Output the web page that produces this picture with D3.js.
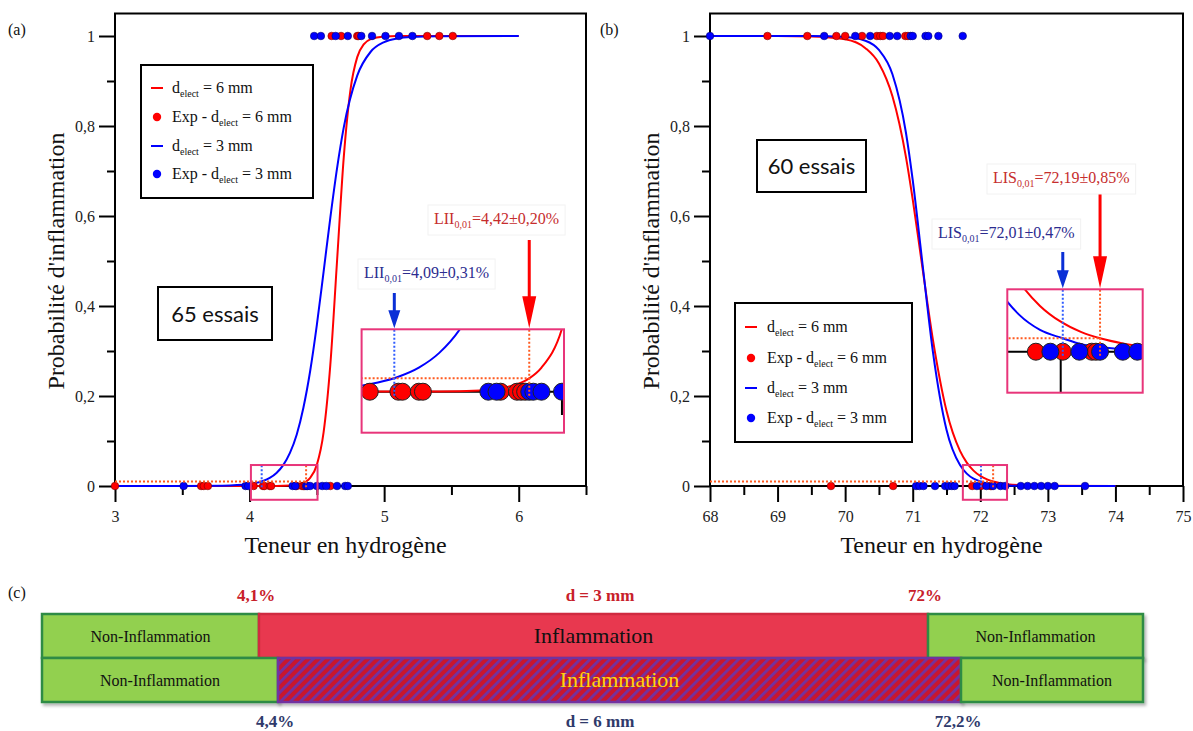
<!DOCTYPE html>
<html><head><meta charset="utf-8">
<script src="https://cdn.jsdelivr.net/npm/d3@7"></script>
<style>body{margin:0;background:#fff}svg{display:block}</style>
</head><body>
<svg id="chart" width="1193" height="731"></svg>
<script>
const FONT = "'Liberation Serif','Times New Roman',Times,serif";
const SANS = "Lato,'Open Sans','Liberation Sans',sans-serif";

// ---------------- Panel (a) data : x = hydrogen content (%), p = probability ----------------
const aCurve6 = [[3.0,0],[4.2,0.0001],[4.3,0.0009],[4.35,0.0025],[4.4,0.0067],[4.42,0.01],[4.45,0.018],[4.5,0.047],[4.55,0.119],[4.6,0.269],[4.65,0.5],[4.7,0.731],[4.75,0.881],[4.8,0.953],[4.85,0.982],[4.9,0.993],[5.0,0.999],[5.1,1],[6.0,1]];
const aCurve3 = [[3.0,0],[3.5,0.00003],[3.8,0.0006],[4.0,0.0042],[4.05,0.0069],[4.1,0.0112],[4.15,0.018],[4.2,0.029],[4.25,0.0465],[4.3,0.0735],[4.35,0.114],[4.4,0.174],[4.45,0.255],[4.5,0.358],[4.55,0.476],[4.6,0.596],[4.65,0.706],[4.7,0.797],[4.8,0.912],[4.9,0.965],[5.0,0.9865],[5.1,0.9948],[5.2,0.998],[5.4,0.9997],[6.0,1]];
const aExp6Ignition = [4.61,4.68,4.80,4.81,5.32,5.41,5.51];
const aExp6NoIgnition = [3.0,3.64,3.66,3.69,4.03,4.10,4.11,4.15,4.16,4.35,4.39,4.40,4.41,4.60];
const aExp3Ignition = [4.48,4.53,4.64,4.73,4.83,4.91,5.01,5.11,5.21];
const aExp3NoIgnition = [3.51,3.97,3.99,4.32,4.34,4.42,4.43,4.45,4.50,4.54,4.57,4.65,4.71,4.73];
const aXTicks = [3,4,5,6];
const aXMinor = [3.5,4.5,5.5,6.5];
const aLimit6 = {name:"LII", value:4.42, err:0.20};
const aLimit3 = {name:"LII", value:4.09, err:0.31};
const aTrials = "65 essais";

// ---------------- Panel (b) data ----------------
const bCurve6 = [[68,1],[69,0.9999],[69.5,0.9991],[70,0.9926],[70.3,0.973],[70.5,0.939],[70.7,0.866],[70.9,0.731],[71.0,0.637],[71.13,0.5],[71.3,0.324],[71.5,0.167],[71.7,0.078],[71.8,0.052],[71.9,0.0342],[72.0,0.0224],[72.1,0.0146],[72.19,0.01],[72.3,0.0062],[72.4,0.004],[72.6,0.0017],[73,0.0003],[74,0]];
const bCurve3 = [[68,1],[69,1],[69.5,0.9999],[70,0.9979],[70.3,0.9894],[70.5,0.969],[70.7,0.915],[70.9,0.785],[71.0,0.68],[71.14,0.5],[71.3,0.297],[71.5,0.125],[71.7,0.0464],[71.8,0.0275],[71.9,0.0163],[72.01,0.01],[72.1,0.0056],[72.2,0.0033],[72.3,0.0019],[72.4,0.0011],[72.6,0.0004],[73,0],[74,0]];
const bExp6Ignition = [68.85,69.44,69.87,70.0,70.25,70.47,70.52,70.56,70.89,70.93];
const bExp6NoIgnition = [69.79,70.71,71.88,72.01,72.15,72.17];
const bExp3Ignition = [68.0,69.69,70.15,70.37,70.66,70.77,70.97,71.0,71.19,71.23,71.38,71.74];
const bExp3NoIgnition = [71.05,71.1,71.16,71.33,71.48,71.53,71.58,71.62,71.95,72.09,72.19,72.3,72.37,72.6,72.7,72.8,72.9,73.0,73.1,73.55];
const bXTicks = [68,69,70,71,72,73,74,75];
const bXMinor = [68.5,69.5,70.5,71.5,72.5,73.5,74.5];
const bLimit6 = {name:"LIS", value:72.19, err:0.85};
const bLimit3 = {name:"LIS", value:72.01, err:0.47};
const bTrials = "60 essais";

const yTicks = [0,0.2,0.4,0.6,0.8,1];
const yMinor = [0.1,0.3,0.5,0.7,0.9];
const pLevel = 0.01;

// ---------------- Panel (c) data ----------------
const cRow3mm = [{from:0,to:4.1,label:"Non-Inflammation",kind:"non"},{from:4.1,to:72,label:"Inflammation",kind:"inf"},{from:72,to:100,label:"Non-Inflammation",kind:"non"}];
const cRow6mm = [{from:0,to:4.4,label:"Non-Inflammation",kind:"non"},{from:4.4,to:72.2,label:"Inflammation",kind:"hatch"},{from:72.2,to:100,label:"Non-Inflammation",kind:"non"}];
const cTopLabels = [{v:4.1,t:"4,1%"},{v:72,t:"72%"}];
const cBottomLabels = [{v:4.4,t:"4,4%"},{v:72.2,t:"72,2%"}];

// ---------------------------------------------------------------
const svg = d3.select("#chart");
const loc = d3.formatLocale({decimal:",", thousands:"\u00a0", grouping:[3], currency:["",""]});
const fmtTick = loc.format("~g");
const fmt2 = loc.format(".2f");
const RED = "#ff0000", BLUE = "#0000ff", PINK = "#e8357a", ORANGE = "#ff5a1f", DBLUE = "#2f5cff";
const RED_TXT = "#c62d2d", BLUE_TXT = "#2c2c8f";

const defs = svg.append("defs");
const pat = defs.append("pattern").attr("id","hatch").attr("patternUnits","userSpaceOnUse")
  .attr("width",7).attr("height",7).attr("patternTransform","rotate(45)");
pat.append("rect").attr("width",7).attr("height",7).attr("fill","#c8142f");
pat.append("rect").attr("x",0).attr("width",2.8).attr("height",7).attr("fill","#7232a0");
const shadow = defs.append("filter").attr("id","shadow").attr("x","-5%").attr("y","-20%").attr("width","110%").attr("height","150%");
shadow.append("feDropShadow").attr("dx",2).attr("dy",2.5).attr("stdDeviation",1.5).attr("flood-color","#000").attr("flood-opacity",0.3);

const yMain = d3.scaleLinear().domain([0,1]).range([486,36]);

function drawContent(g, x, y, cfg, r, tickMul, isInset) {
  const line = d3.line().x(d=>x(d[0])).y(d=>y(d[1])).curve(d3.curveMonotoneX);
  if (isInset) {
    const [x0,x1] = x.range();
    g.append("line").attr("x1",x0).attr("x2",x1).attr("y1",y(0)).attr("y2",y(0)).attr("stroke","#000").attr("stroke-width",2);
    const dom = x.domain();
    cfg.xTicks.concat(cfg.xMinor).forEach(t=>{
      if (t < dom[0] || t > dom[1]) return;
      const len = (cfg.xTicks.includes(t) ? 16 : 9) * tickMul;
      g.append("line").attr("x1",x(t)).attr("x2",x(t)).attr("y1",y(0)).attr("y2",y(0)+len).attr("stroke","#000").attr("stroke-width",2);
    });
  }
  g.append("path").datum(cfg.curve6).attr("d",line).attr("fill","none").attr("stroke",RED).attr("stroke-width",2);
  g.append("path").datum(cfg.curve3).attr("d",line).attr("fill","none").attr("stroke",BLUE).attr("stroke-width",2);
  const sw = isInset ? 1 : 0.6;
  const pts6 = cfg.exp6Ig.map(v=>[v,1]).concat(cfg.exp6No.map(v=>[v,0]));
  const pts3 = cfg.exp3Ig.map(v=>[v,1]).concat(cfg.exp3No.map(v=>[v,0]));
  g.append("g").selectAll("circle").data(pts6).join("circle").attr("cx",d=>x(d[0])).attr("cy",d=>y(d[1])).attr("r",r)
    .attr("fill",RED).attr("stroke",isInset?"#222":"#7a0000").attr("stroke-width",sw);
  g.append("g").selectAll("circle").data(pts3).join("circle").attr("cx",d=>x(d[0])).attr("cy",d=>y(d[1])).attr("r",r)
    .attr("fill",BLUE).attr("stroke",isInset?"#222":"#00007a").attr("stroke-width",sw);
  const top = cfg.insetP[1];
  g.append("line").attr("x1",x(cfg.xDomain[0])).attr("x2",x(cfg.limit6.value)).attr("y1",y(pLevel)).attr("y2",y(pLevel))
    .attr("stroke",ORANGE).attr("stroke-width",2).attr("stroke-dasharray","2,2");
  g.append("line").attr("x1",x(cfg.limit6.value)).attr("x2",x(cfg.limit6.value)).attr("y1",y(-0.003)).attr("y2",y(top))
    .attr("stroke",ORANGE).attr("stroke-width",2).attr("stroke-dasharray","2,2");
  g.append("line").attr("x1",x(cfg.limit3.value)).attr("x2",x(cfg.limit3.value)).attr("y1",y(-0.003)).attr("y2",y(top))
    .attr("stroke",DBLUE).attr("stroke-width",2).attr("stroke-dasharray","2,2");
}

function arrow(g, x, y0, y1, color, headW, headH, shaftW) {
  g.append("path").attr("fill",color)
    .attr("d",`M${x-shaftW/2},${y0}V${y1-headH}H${x-headW/2}L${x},${y1}L${x+headW/2},${y1-headH}H${x+shaftW/2}V${y0}Z`);
}

function limitLabel(g, x, yb, lim, color) {
  const lg = g.append("g");
  const t = lg.append("text").attr("x",x).attr("y",yb).attr("fill",color)
    .style("font-family",FONT).style("font-size","16px");
  t.append("tspan").text(lim.name);
  t.append("tspan").attr("dy",4).style("font-size","10px").text("0,01");
  t.append("tspan").attr("dy",-4).text("=" + fmt2(lim.value) + "\u00b1" + fmt2(lim.err) + "%");
  const bb = t.node().getBBox();
  lg.insert("rect","text").attr("x",bb.x-6).attr("y",bb.y-5).attr("width",bb.width+12).attr("height",bb.height+10)
    .attr("fill","#fff").attr("stroke","#f2f2f2");
}

function legend(g, x0, y0, w, h, rowY, mx, tx) {
  g.append("rect").attr("x",x0).attr("y",y0).attr("width",w).attr("height",h).attr("fill","#fff").attr("stroke","#000").attr("stroke-width",2);
  const items = [{k:"line",c:RED,pre:"",v:"6"},{k:"dot",c:RED,pre:"Exp - ",v:"6"},{k:"line",c:BLUE,pre:"",v:"3"},{k:"dot",c:BLUE,pre:"Exp - ",v:"3"}];
  items.forEach((it,i)=>{
    const yy = rowY[i];
    if (it.k==="line") g.append("line").attr("x1",mx-6).attr("x2",mx+6).attr("y1",yy).attr("y2",yy).attr("stroke",it.c).attr("stroke-width",2);
    else g.append("circle").attr("cx",mx).attr("cy",yy).attr("r",4.2).attr("fill",it.c);
    const t = g.append("text").attr("x",tx).attr("y",yy+5).style("font-family",FONT).style("font-size","16px").attr("fill","#111");
    t.append("tspan").text(it.pre + "d");
    t.append("tspan").attr("dy",4).style("font-size","10px").text("elect");
    t.append("tspan").attr("dy",-4).text(" = " + it.v + " mm");
  });
}

function panel(cfg) {
  const g = svg.append("g");
  const x = d3.scaleLinear().domain(cfg.xDomain).range(cfg.xRange);
  const y = yMain;
  const [x0,x1] = cfg.xRange;
  const top = y(1.05);
  g.append("path").attr("d",`M${x0},${y(0)}V${top}H${x1}V${y(0)}`).attr("fill","none").attr("stroke","#000").attr("stroke-width",2);
  g.append("line").attr("x1",x0).attr("x2",x1).attr("y1",y(0)).attr("y2",y(0)).attr("stroke","#000").attr("stroke-width",2);
  const styleAxis = s => { s.select(".domain").remove(); s.selectAll(".tick line").attr("stroke","#000").attr("stroke-width",2);
    s.selectAll("text").style("font-family",FONT).style("font-size","16px").attr("fill","#222"); };
  g.append("g").attr("transform",`translate(${x0},0)`).call(d3.axisLeft(y).tickValues(yTicks).tickSize(16).tickPadding(4).tickFormat(fmtTick)).call(styleAxis);
  g.append("g").attr("transform",`translate(${x0},0)`).call(d3.axisLeft(y).tickValues(yMinor).tickSize(8).tickFormat("")).call(styleAxis);
  g.append("g").attr("transform",`translate(0,${y(0)})`).call(d3.axisBottom(x).tickValues(cfg.xTicks).tickSize(16).tickPadding(9).tickFormat(fmtTick)).call(styleAxis);
  g.append("g").attr("transform",`translate(0,${y(0)})`).call(d3.axisBottom(x).tickValues(cfg.xMinor).tickSize(9).tickFormat("")).call(styleAxis);
  g.append("text").attr("x",(x0+x1)/2 - 5).attr("y",553).attr("text-anchor","middle").style("font-family",FONT).style("font-size","24px").attr("fill","#111").text("Teneur en hydrogène");
  g.append("text").attr("transform",`translate(${x0-51},${(y(0)+y(1))/2}) rotate(-90)`).attr("text-anchor","middle").style("font-family",FONT).style("font-size","24px").attr("fill","#111").text("Probabilité d'inflammation");
  g.append("text").attr("x",cfg.tagX).attr("y",35).style("font-family",FONT).style("font-size","16px").attr("fill","#111").text(cfg.tag);

  drawContent(g.append("g"), x, y, cfg, 3.8, 1, false);
  g.append("rect").attr("x",x(cfg.insetX[0])).attr("y",y(cfg.insetP[1])).attr("width",x(cfg.insetX[1])-x(cfg.insetX[0]))
    .attr("height",y(cfg.insetP[0])-y(cfg.insetP[1])).attr("fill","none").attr("stroke",PINK).attr("stroke-width",2);

  const ix = d3.scaleLinear().domain(cfg.insetX).range(cfg.insetRX);
  const iy = d3.scaleLinear().domain(cfg.insetP).range(cfg.insetRY);
  const cid = "clip" + cfg.tag.replace(/\W/g,"");
  defs.append("clipPath").attr("id",cid).append("rect").attr("x",cfg.insetRX[0]).attr("y",cfg.insetRY[1])
    .attr("width",cfg.insetRX[1]-cfg.insetRX[0]).attr("height",cfg.insetRY[0]-cfg.insetRY[1]);
  g.append("rect").attr("x",cfg.insetRX[0]).attr("y",cfg.insetRY[1]).attr("width",cfg.insetRX[1]-cfg.insetRX[0]).attr("height",cfg.insetRY[0]-cfg.insetRY[1]).attr("fill","#fff");
  drawContent(g.append("g").attr("clip-path",`url(#${cid})`), ix, iy, cfg, 8.5, 2.6, true);
  g.append("rect").attr("x",cfg.insetRX[0]).attr("y",cfg.insetRY[1]).attr("width",cfg.insetRX[1]-cfg.insetRX[0]).attr("height",cfg.insetRY[0]-cfg.insetRY[1])
    .attr("fill","none").attr("stroke",PINK).attr("stroke-width",2);

  const itop = cfg.insetRY[1];
  arrow(g, ix(cfg.limit6.value), cfg.arrow6Top, itop-1, RED, 14, 32, 3);
  arrow(g, ix(cfg.limit3.value), cfg.arrow3Top, itop-1, "#0a2fd6", 12, 18, 3);
  limitLabel(g, cfg.lab6[0], cfg.lab6[1], cfg.limit6, RED_TXT);
  limitLabel(g, cfg.lab3[0], cfg.lab3[1], cfg.limit3, BLUE_TXT);

  const tb = cfg.trialsBox;
  g.append("rect").attr("x",tb[0]).attr("y",tb[1]).attr("width",tb[2]).attr("height",tb[3]).attr("fill","#fff").attr("stroke","#000").attr("stroke-width",2);
  g.append("text").attr("x",tb[0]+tb[2]/2).attr("y",tb[1]+tb[3]/2+8).attr("text-anchor","middle").style("font-family",SANS).style("font-size","22px").attr("fill","#111").text(cfg.trials);

  legend(g, ...cfg.legend);
}

panel({tag:"(a)", tagX:8, xDomain:[3,6.5], xRange:[115,586], xTicks:aXTicks, xMinor:aXMinor,
  curve6:aCurve6, curve3:aCurve3, exp6Ig:aExp6Ignition, exp6No:aExp6NoIgnition, exp3Ig:aExp3Ignition, exp3No:aExp3NoIgnition,
  limit6:aLimit6, limit3:aLimit3, insetX:[4.01,4.505], insetP:[-0.0306,0.0466], insetRX:[361.6,564], insetRY:[432.7,329.3],
  arrow6Top:240, arrow3Top:293, lab6:[434,224], lab3:[364,278], trials:aTrials, trialsBox:[158,287,114,53],
  legend:[141,65,172,133,[88,117,146,174],157,172]});

panel({tag:"(b)", tagX:600, xDomain:[68,75], xRange:[710,1183], xTicks:bXTicks, xMinor:bXMinor,
  curve6:bCurve6, curve3:bCurve3, exp6Ig:bExp6Ignition, exp6No:bExp6NoIgnition, exp3Ig:bExp3Ignition, exp3No:bExp3NoIgnition,
  limit6:bLimit6, limit3:bLimit3, insetX:[71.742,72.396], insetP:[-0.0306,0.0466], insetRX:[1007.3,1142.7], insetRY:[392.7,289.3],
  arrow6Top:192, arrow3Top:252, lab6:[993,183], lab3:[938,238], trials:bTrials, trialsBox:[757,140,109,52],
  legend:[735,303,177,139,[327,358,388,418],751,767]});

// ---------------- Panel (c) ----------------
const cg = svg.append("g");
const cx = d3.scaleLinear().domain([0,4.1,4.4,72,72.2,100]).range([42,259,278,928,961,1143]);
cg.append("text").attr("x",8).attr("y",598).style("font-family",FONT).style("font-size","16px").attr("fill","#111").text("(c)");
function barRow(data, y0, h) {
  data.forEach(d=>{
    const fill = d.kind==="non" ? "#92d050" : d.kind==="inf" ? "#e8394f" : "url(#hatch)";
    const stroke = d.kind==="non" ? "#2e8b45" : d.kind==="inf" ? "#d02a40" : "#7232a0";
    cg.append("rect").attr("x",cx(d.from)).attr("y",y0).attr("width",cx(d.to)-cx(d.from)).attr("height",h)
      .attr("fill",fill).attr("stroke",stroke).attr("stroke-width",2.5).attr("filter","url(#shadow)");
  });
  data.forEach(d=>{
    const big = d.kind!=="non";
    cg.append("text").attr("x",(cx(d.from)+cx(d.to))/2).attr("y",y0+h/2+(big?7:6)).attr("text-anchor","middle")
      .style("font-family",FONT).style("font-size",big?"22px":"16px")
      .attr("fill", d.kind==="hatch" ? "#ffd60a" : "#111").text(d.label);
  });
}
barRow(cRow3mm, 614, 44);
barRow(cRow6mm, 658, 44);
const boldStyle = s => s.style("font-family",FONT).style("font-size","17px").style("font-weight","bold").attr("text-anchor","middle");
cTopLabels.forEach(d=>cg.append("text").attr("x",cx(d.v)-3).attr("y",601).attr("fill","#c8202a").call(boldStyle).text(d.t));
cBottomLabels.forEach(d=>cg.append("text").attr("x",cx(d.v)-3).attr("y",727).attr("fill","#2f3a6b").call(boldStyle).text(d.t));
cg.append("text").attr("x",600).attr("y",601).attr("fill","#c8202a").call(boldStyle).text("d = 3 mm");
cg.append("text").attr("x",600).attr("y",727).attr("fill","#2f3a6b").call(boldStyle).text("d = 6 mm");
</script>
</body></html>
